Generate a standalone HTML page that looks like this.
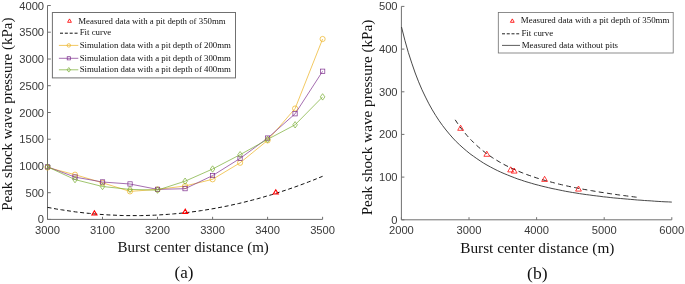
<!DOCTYPE html>
<html><head><meta charset="utf-8"><title>Figure</title>
<style>
html,body{margin:0;padding:0;background:#fff;}
svg{display:block;will-change:transform;}
.tk{font-family:"Liberation Sans",sans-serif;font-size:11.2px;fill:#3a3a3a;}
.lb{font-family:"Liberation Serif",serif;font-size:15px;fill:#111;}
.cp{font-family:"Liberation Serif",serif;font-size:17px;fill:#111;}
.lg{font-family:"Liberation Serif",serif;font-size:8.8px;fill:#111;}
.lgb{font-size:8.9px;}
</style></head><body>

<svg width="685" height="284" viewBox="0 0 685 284">
<rect width="685" height="284" fill="#fff"/>
<g stroke="#707070" stroke-width="1" fill="none">
<path d="M47.5,5.5 V219.4 H322.6"/>
<path d="M47.5,219.4 h3.3"/>
<path d="M47.5,192.7 h3.3"/>
<path d="M47.5,165.9 h3.3"/>
<path d="M47.5,139.2 h3.3"/>
<path d="M47.5,112.5 h3.3"/>
<path d="M47.5,85.7 h3.3"/>
<path d="M47.5,59.0 h3.3"/>
<path d="M47.5,32.2 h3.3"/>
<path d="M47.5,5.5 h3.3"/>
<path d="M47.5,219.4 v-2.6"/>
<path d="M102.5,219.4 v-2.6"/>
<path d="M157.5,219.4 v-2.6"/>
<path d="M212.6,219.4 v-2.6"/>
<path d="M267.6,219.4 v-2.6"/>
<path d="M322.6,219.4 v-2.6"/>
</g>
<text class="tk" x="44.1" y="223.4" text-anchor="end">0</text>
<text class="tk" x="44.1" y="196.7" text-anchor="end">500</text>
<text class="tk" x="44.1" y="169.9" text-anchor="end">1000</text>
<text class="tk" x="44.1" y="143.2" text-anchor="end">1500</text>
<text class="tk" x="44.1" y="116.5" text-anchor="end">2000</text>
<text class="tk" x="44.1" y="89.7" text-anchor="end">2500</text>
<text class="tk" x="44.1" y="63.0" text-anchor="end">3000</text>
<text class="tk" x="44.1" y="36.2" text-anchor="end">3500</text>
<text class="tk" x="44.1" y="9.5" text-anchor="end">4000</text>
<text class="tk" x="47.5" y="233.7" text-anchor="middle">3000</text>
<text class="tk" x="102.5" y="233.7" text-anchor="middle">3100</text>
<text class="tk" x="157.5" y="233.7" text-anchor="middle">3200</text>
<text class="tk" x="212.6" y="233.7" text-anchor="middle">3300</text>
<text class="tk" x="267.6" y="233.7" text-anchor="middle">3400</text>
<text class="tk" x="322.6" y="233.7" text-anchor="middle">3500</text>
<text class="lb" transform="translate(11.6,114.2) rotate(-90)" text-anchor="middle">Peak shock wave pressure (kPa)</text>
<text class="lb" x="193.2" y="252.2" text-anchor="middle">Burst center distance (m)</text>
<text class="cp" x="184" y="278.3" text-anchor="middle">(a)</text>
<polyline points="47.5,167.5 75.0,174.7 102.5,182.8 130.0,191.4 157.5,189.4 185.1,186.0 212.6,179.3 240.1,162.8 267.6,140.4 295.1,108.5 322.6,39.0" fill="none" stroke="#EDB120" stroke-width="0.7"/>
<circle cx="47.5" cy="167.5" r="2.6" fill="none" stroke="#EDB120" stroke-width="0.7"/>
<circle cx="75.0" cy="174.7" r="2.6" fill="none" stroke="#EDB120" stroke-width="0.7"/>
<circle cx="102.5" cy="182.8" r="2.6" fill="none" stroke="#EDB120" stroke-width="0.7"/>
<circle cx="130.0" cy="191.4" r="2.6" fill="none" stroke="#EDB120" stroke-width="0.7"/>
<circle cx="157.5" cy="189.4" r="2.6" fill="none" stroke="#EDB120" stroke-width="0.7"/>
<circle cx="185.1" cy="186.0" r="2.6" fill="none" stroke="#EDB120" stroke-width="0.7"/>
<circle cx="212.6" cy="179.3" r="2.6" fill="none" stroke="#EDB120" stroke-width="0.7"/>
<circle cx="240.1" cy="162.8" r="2.6" fill="none" stroke="#EDB120" stroke-width="0.7"/>
<circle cx="267.6" cy="140.4" r="2.6" fill="none" stroke="#EDB120" stroke-width="0.7"/>
<circle cx="295.1" cy="108.5" r="2.6" fill="none" stroke="#EDB120" stroke-width="0.7"/>
<circle cx="322.6" cy="39.0" r="2.6" fill="none" stroke="#EDB120" stroke-width="0.7"/>
<polyline points="47.5,166.8 75.0,177.1 102.5,182.0 130.0,184.0 157.5,189.4 185.1,188.7 212.6,175.6 240.1,158.4 267.6,138.1 295.1,113.8 322.6,71.3" fill="none" stroke="#7E2F8E" stroke-width="0.7"/>
<rect x="45.4" y="164.7" width="4.3" height="4.3" fill="none" stroke="#7E2F8E" stroke-width="0.7"/>
<rect x="72.9" y="174.9" width="4.3" height="4.3" fill="none" stroke="#7E2F8E" stroke-width="0.7"/>
<rect x="100.4" y="179.8" width="4.3" height="4.3" fill="none" stroke="#7E2F8E" stroke-width="0.7"/>
<rect x="127.9" y="181.8" width="4.3" height="4.3" fill="none" stroke="#7E2F8E" stroke-width="0.7"/>
<rect x="155.4" y="187.2" width="4.3" height="4.3" fill="none" stroke="#7E2F8E" stroke-width="0.7"/>
<rect x="182.9" y="186.5" width="4.3" height="4.3" fill="none" stroke="#7E2F8E" stroke-width="0.7"/>
<rect x="210.4" y="173.4" width="4.3" height="4.3" fill="none" stroke="#7E2F8E" stroke-width="0.7"/>
<rect x="237.9" y="156.2" width="4.3" height="4.3" fill="none" stroke="#7E2F8E" stroke-width="0.7"/>
<rect x="265.4" y="135.9" width="4.3" height="4.3" fill="none" stroke="#7E2F8E" stroke-width="0.7"/>
<rect x="292.9" y="111.6" width="4.3" height="4.3" fill="none" stroke="#7E2F8E" stroke-width="0.7"/>
<rect x="320.5" y="69.1" width="4.3" height="4.3" fill="none" stroke="#7E2F8E" stroke-width="0.7"/>
<polyline points="47.5,166.8 75.0,179.6 102.5,186.5 130.0,189.4 157.5,190.1 185.1,181.2 212.6,169.0 240.1,154.7 267.6,139.4 295.1,124.8 322.6,96.9" fill="none" stroke="#77AC30" stroke-width="0.7"/>
<polygon points="47.5,163.6 49.8,166.8 47.5,170.0 45.2,166.8" fill="none" stroke="#77AC30" stroke-width="0.7"/>
<polygon points="75.0,176.4 77.3,179.6 75.0,182.8 72.7,179.6" fill="none" stroke="#77AC30" stroke-width="0.7"/>
<polygon points="102.5,183.3 104.8,186.5 102.5,189.7 100.2,186.5" fill="none" stroke="#77AC30" stroke-width="0.7"/>
<polygon points="130.0,186.2 132.3,189.4 130.0,192.6 127.7,189.4" fill="none" stroke="#77AC30" stroke-width="0.7"/>
<polygon points="157.5,186.9 159.8,190.1 157.5,193.3 155.2,190.1" fill="none" stroke="#77AC30" stroke-width="0.7"/>
<polygon points="185.1,178.0 187.4,181.2 185.1,184.4 182.8,181.2" fill="none" stroke="#77AC30" stroke-width="0.7"/>
<polygon points="212.6,165.8 214.9,169.0 212.6,172.2 210.3,169.0" fill="none" stroke="#77AC30" stroke-width="0.7"/>
<polygon points="240.1,151.5 242.4,154.7 240.1,157.9 237.8,154.7" fill="none" stroke="#77AC30" stroke-width="0.7"/>
<polygon points="267.6,136.2 269.9,139.4 267.6,142.6 265.3,139.4" fill="none" stroke="#77AC30" stroke-width="0.7"/>
<polygon points="295.1,121.6 297.4,124.8 295.1,128.0 292.8,124.8" fill="none" stroke="#77AC30" stroke-width="0.7"/>
<polygon points="322.6,93.7 324.9,96.9 322.6,100.1 320.3,96.9" fill="none" stroke="#77AC30" stroke-width="0.7"/>
<polyline points="47.5,207.4 52.2,208.2 56.8,209.1 61.5,209.8 66.2,210.5 70.8,211.2 75.5,211.9 80.1,212.4 84.8,213.0 89.5,213.4 94.1,213.9 98.8,214.3 103.5,214.6 108.1,214.9 112.8,215.1 117.4,215.3 122.1,215.5 126.8,215.6 131.4,215.6 136.1,215.6 140.8,215.6 145.4,215.5 150.1,215.3 154.7,215.2 159.4,214.9 164.1,214.6 168.7,214.3 173.4,213.9 178.1,213.5 182.7,213.0 187.4,212.5 192.0,211.9 196.7,211.3 201.4,210.6 206.0,209.9 210.7,209.1 215.4,208.3 220.0,207.4 224.7,206.5 229.3,205.6 234.0,204.5 238.7,203.5 243.3,202.4 248.0,201.2 252.7,200.0 257.3,198.8 262.0,197.5 266.6,196.1 271.3,194.8 276.0,193.3 280.6,191.8 285.3,190.3 290.0,188.7 294.6,187.1 299.3,185.4 303.9,183.7 308.6,181.9 313.3,180.1 317.9,178.2 322.6,176.3" fill="none" stroke="#111" stroke-width="1" stroke-dasharray="4,2.6"/>
<polygon points="94.4,210.8 91.9,215.0 96.9,215.0" fill="none" stroke="#FF0000" stroke-width="1.1"/>
<polygon points="185.2,209.2 182.7,213.4 187.7,213.4" fill="none" stroke="#FF0000" stroke-width="1.1"/>
<polygon points="275.8,189.8 273.3,194.0 278.3,194.0" fill="none" stroke="#FF0000" stroke-width="1.1"/>
<rect x="52.4" y="12.5" width="183.1" height="65.4" fill="#fff" stroke="#707070" stroke-width="1"/>
<polygon points="69.5,18.9 67.6,22.3 71.4,22.3" fill="none" stroke="#FF0000" stroke-width="0.85"/>
<text class="lg" x="78.3" y="23.5">Measured data with a pit depth of 350mm</text>
<path d="M60,33.2 H77.6" stroke="#111" stroke-width="1" stroke-dasharray="3,1.85"/>
<text class="lg" x="79.7" y="35.2">Fit curve</text>
<path d="M58.9,45.4 H78.3" stroke="#EDB120" stroke-width="0.7"/>
<circle cx="68.8" cy="45.4" r="1.75" fill="none" stroke="#EDB120" stroke-width="0.7"/>
<text class="lg" x="79.7" y="47.6">Simulation data with a pit depth of 200mm</text>
<path d="M58.9,58.3 H78.3" stroke="#7E2F8E" stroke-width="0.7"/>
<rect x="67.2" y="56.7" width="3.2" height="3.2" fill="none" stroke="#7E2F8E" stroke-width="0.7"/>
<text class="lg" x="79.7" y="60.5">Simulation data with a pit depth of 300mm</text>
<path d="M58.9,69.8 H78.3" stroke="#77AC30" stroke-width="0.7"/>
<polygon points="68.8,67.5 70.5,69.8 68.8,72.1 67.1,69.8" fill="none" stroke="#77AC30" stroke-width="0.7"/>
<text class="lg" x="79.7" y="72.0">Simulation data with a pit depth of 400mm</text>
<g stroke="#707070" stroke-width="1" fill="none">
<path d="M401.4,6.4 V219.8 H671.8"/>
<path d="M401.4,219.8 h3"/>
<path d="M401.4,177.1 h3"/>
<path d="M401.4,134.4 h3"/>
<path d="M401.4,91.8 h3"/>
<path d="M401.4,49.1 h3"/>
<path d="M401.4,6.4 h3"/>
<path d="M401.4,219.8 v-2.6"/>
<path d="M469.0,219.8 v-2.6"/>
<path d="M536.6,219.8 v-2.6"/>
<path d="M604.2,219.8 v-2.6"/>
<path d="M671.8,219.8 v-2.6"/>
</g>
<text class="tk" x="397.6" y="223.8" text-anchor="end">0</text>
<text class="tk" x="397.6" y="181.1" text-anchor="end">100</text>
<text class="tk" x="397.6" y="138.4" text-anchor="end">200</text>
<text class="tk" x="397.6" y="95.8" text-anchor="end">300</text>
<text class="tk" x="397.6" y="53.1" text-anchor="end">400</text>
<text class="tk" x="397.6" y="10.4" text-anchor="end">500</text>
<text class="tk" x="401.4" y="233.5" text-anchor="middle">2000</text>
<text class="tk" x="469.0" y="233.5" text-anchor="middle">3000</text>
<text class="tk" x="536.6" y="233.5" text-anchor="middle">4000</text>
<text class="tk" x="604.2" y="233.5" text-anchor="middle">5000</text>
<text class="tk" x="671.8" y="233.5" text-anchor="middle">6000</text>
<text class="lb" style="font-size:15.2px" transform="translate(372.3,117.5) rotate(-90)" text-anchor="middle">Peak shock wave pressure (kPa)</text>
<text class="lb" style="font-size:15.3px" x="537.3" y="252.7" text-anchor="middle">Burst center distance (m)</text>
<text class="cp" style="font-size:17.6px" x="537.3" y="278.6" text-anchor="middle">(b)</text>
<polyline points="401.5,27.0 404.9,40.4 408.3,52.4 411.8,63.2 415.2,73.0 418.6,81.8 422.0,89.8 425.5,97.1 428.9,103.8 432.3,109.9 435.7,115.5 439.1,120.7 442.6,125.6 446.0,130.0 449.4,134.1 452.8,138.0 456.2,141.6 459.7,144.9 463.1,148.0 466.5,150.9 469.9,153.7 473.4,156.2 476.8,158.6 480.2,160.9 483.6,163.1 487.0,165.1 490.5,167.0 493.9,168.8 497.3,170.5 500.7,172.1 504.1,173.6 507.6,175.0 511.0,176.4 514.4,177.7 517.8,179.0 521.3,180.1 524.7,181.3 528.1,182.3 531.5,183.3 534.9,184.3 538.4,185.2 541.8,186.1 545.2,186.9 548.6,187.7 552.0,188.5 555.5,189.2 558.9,189.9 562.3,190.6 565.7,191.3 569.2,191.9 572.6,192.5 576.0,193.0 579.4,193.6 582.8,194.1 586.3,194.6 589.7,195.0 593.1,195.5 596.5,195.9 599.9,196.3 603.4,196.8 606.8,197.1 610.2,197.5 613.6,197.9 617.1,198.2 620.5,198.5 623.9,198.8 627.3,199.1 630.7,199.4 634.2,199.7 637.6,200.0 641.0,200.2 644.4,200.5 647.8,200.7 651.3,200.9 654.7,201.2 658.1,201.4 661.5,201.6 665.0,201.8 668.4,201.9 671.8,202.1" fill="none" stroke="#333" stroke-width="0.9"/>
<polyline points="455.2,119.8 457.5,123.3 459.8,126.6 462.1,129.6 464.5,132.5 466.8,135.3 469.1,137.9 471.4,140.3 473.7,142.6 476.0,144.8 478.3,146.9 480.7,148.9 483.0,150.8 485.3,152.6 487.6,154.3 489.9,155.9 492.2,157.5 494.5,159.0 496.9,160.4 499.2,161.8 501.5,163.1 503.8,164.4 506.1,165.6 508.4,166.7 510.7,167.8 513.0,168.9 515.4,169.9 517.7,170.9 520.0,171.9 522.3,172.8 524.6,173.7 526.9,174.6 529.2,175.4 531.6,176.2 533.9,177.0 536.2,177.8 538.5,178.5 540.8,179.2 543.1,179.9 545.4,180.5 547.8,181.2 550.1,181.8 552.4,182.4 554.7,183.0 557.0,183.6 559.3,184.2 561.6,184.7 564.0,185.3 566.3,185.8 568.6,186.3 570.9,186.8 573.2,187.3 575.5,187.7 577.8,188.2 580.2,188.6 582.5,189.1 584.8,189.5 587.1,189.9 589.4,190.3 591.7,190.7 594.0,191.1 596.3,191.5 598.7,191.9 601.0,192.3 603.3,192.6 605.6,193.0 607.9,193.3 610.2,193.7 612.5,194.0 614.9,194.3 617.2,194.7 619.5,195.0 621.8,195.3 624.1,195.6 626.4,195.9 628.7,196.2 631.1,196.5 633.4,196.8 635.7,197.1 638.0,197.3" fill="none" stroke="#2a2a2a" stroke-width="1" stroke-dasharray="5,3.3"/>
<polygon points="460.6,125.2 457.7,130.3 463.5,130.3" fill="none" stroke="#FF0000" stroke-width="0.75"/>
<polygon points="486.8,151.2 483.9,156.3 489.7,156.3" fill="none" stroke="#FF0000" stroke-width="0.75"/>
<polygon points="510.6,166.8 507.7,171.9 513.5,171.9" fill="none" stroke="#FF0000" stroke-width="0.75"/>
<polygon points="514.2,168.0 511.3,173.1 517.1,173.1" fill="none" stroke="#FF0000" stroke-width="0.75"/>
<polygon points="544.6,176.3 541.7,181.4 547.5,181.4" fill="none" stroke="#FF0000" stroke-width="0.75"/>
<polygon points="578.5,186.0 575.6,191.1 581.4,191.1" fill="none" stroke="#FF0000" stroke-width="0.75"/>
<rect x="498.3" y="12.5" width="174.9" height="40.5" fill="#fff" stroke="#707070" stroke-width="0.8"/>
<polygon points="512.3,18.9 510.4,22.3 514.2,22.3" fill="none" stroke="#FF0000" stroke-width="0.85"/>
<text class="lg lgb" x="520.8" y="23.3">Measured data with a pit depth of 350mm</text>
<path d="M502,33.8 H519.2" stroke="#222" stroke-width="1" stroke-dasharray="3,1.75"/>
<text class="lg lgb" x="521.4" y="36.1">Fit curve</text>
<path d="M502,45.4 H520" stroke="#333" stroke-width="0.8"/>
<text class="lg lgb" x="521.7" y="47.9">Measured data without pits</text>
</svg>
</body></html>
